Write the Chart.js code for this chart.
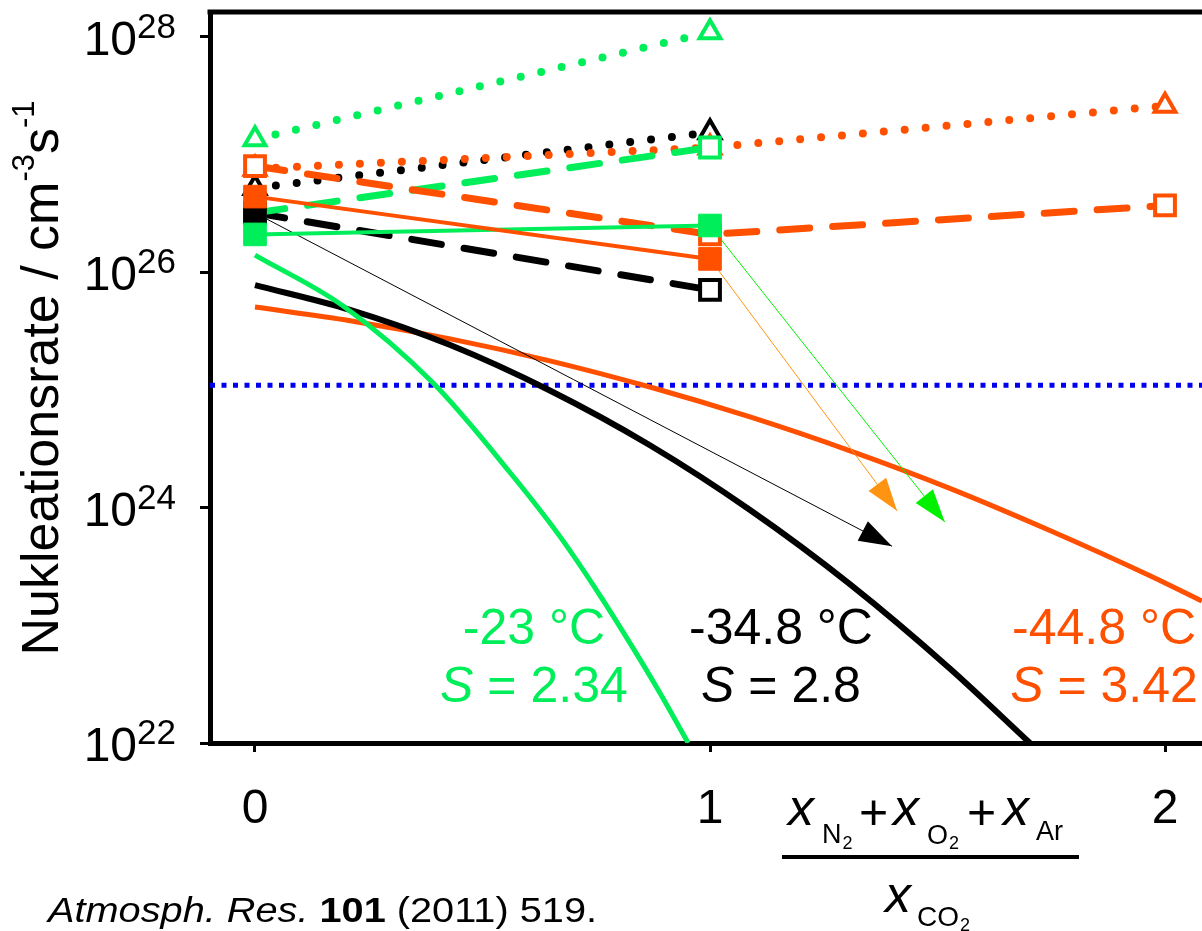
<!DOCTYPE html>
<html>
<head>
<title>Nukleationsrate</title>
<script src="https://cdn.jsdelivr.net/npm/chart.js"></script>
<style>
  body { margin: 0; background: #fff; }
  canvas { display: block; }
</style>
</head>
<body>
<canvas id="nukleation" width="1202" height="931"></canvas>
<script>
// x-Achse: (xN2 + xO2 + xAr) / xCO2
var xMess = [0, 1];
var xMess3 = [0, 1, 2];

// gruen: -23 °C, S = 2.34
var gruenPunktiert = [1.35e27, 1.1e28];     // offene Dreiecke
var gruenGestrichelt = [3.2e26, 1.15e27];   // offene Quadrate
var gruenVoll = [2.1e26, 2.5e26];           // volle Quadrate
var gruenTheorieX = [0, 0.193, 0.391, 0.56, 0.67, 0.758, 0.831, 0.89, 0.952];
var gruenTheorie = [1.4e26, 5.2e25, 1.15e25, 2.0e24, 5.7e23, 1.8e23, 6.4e22, 2.66e22, 1e22];

// schwarz: -34.8 °C, S = 2.8
var schwarzPunktiert = [5.2e26, 1.55e27];
var schwarzGestrichelt = [3.2e26, 7.1e25];
var schwarzVoll = [3.2e26];
var schwarzTheorieX = [0, 0.209, 0.429, 0.648, 0.868, 1.088, 1.308, 1.527, 1.703];
var schwarzTheorie = [7.8e25, 4.8e25, 2.41e25, 9.9e24, 3.39e24, 9.55e23, 2.23e23, 4.3e22, 1e22];

// orange: -44.8 °C, S = 3.42
var orangePunktiert = [7.6e26, 1.15e27, 2.6e27];
var orangeGestrichelt = [8.0e26, 2.1e26, 3.7e26];
var orangeVoll = [4.4e26, 1.3e26];
var orangeTheorieX = [0, 0.209, 0.429, 0.648, 0.868, 1.088, 1.308, 1.527, 1.747, 1.967, 2.081];
var orangeTheorie = [5.07e25, 3.88e25, 2.72e25, 1.77e25, 1.06e25, 5.9e24, 3.04e24, 1.46e24, 6.4e23, 2.64e23, 1.61e23];

// Pfeile (Start, Ziel)
var schwarzPfeilX = [0, 1.40];
var schwarzPfeil = [3.2e26, 4.7e23];
var orangePfeilX = [1, 1.411];
var orangePfeil = [1.3e26, 9.4e23];
var gruenPfeilX = [1, 1.516];
var gruenPfeil = [2.5e26, 7.55e23];

// blaue Linie
var blauX = [-0.2, 2.2];
var blau = [1.1e25, 1.1e25];

var xTicks = [0, 1, 2];
var yTicks = [1e22, 1e24, 1e26, 1e28];
var yExponent = ['22', '24', '26', '28'];

var temperaturen = ['-23 °C', '-34.8 °C', '-44.8 °C'];
var sWerte = ['2.34', '2.8', '3.42'];
var labelX = [0.613, 1.156, 1.866];

var gruen = '#00ee5a';
var orange = '#ff5000';
var schwarz = '#000000';
var schrift = '"Liberation Sans", Arial, sans-serif';

function punkte(xs, ys) {
  return xs.map(function (x, i) { return { x: x, y: ys[i] }; });
}

function messreihe(xs, ys, farbe, art, symbol, offen, order) {
  var ds = {
    data: punkte(xs, ys),
    borderColor: farbe,
    pointStyle: symbol,
    pointBorderColor: farbe,
    pointBackgroundColor: offen ? '#fff' : farbe,
    pointBorderWidth: offen ? 4 : 1,
    pointRadius: symbol === 'triangle' ? 12 : (offen ? 14 : 16),
    order: order,
    fill: false
  };
  if (art === 'punkt') {
    ds.borderWidth = 8; ds.borderDash = [0, 21]; ds.borderCapStyle = 'round';
  } else if (art === 'strich') {
    ds.borderWidth = 7; ds.borderDash = [30, 23]; ds.borderCapStyle = 'round';
  } else {
    ds.borderWidth = 4;
  }
  return ds;
}

function kurve(xs, ys, farbe, breite) {
  return {
    data: punkte(xs, ys), borderColor: farbe, borderWidth: breite,
    pointRadius: 0, cubicInterpolationMode: 'monotone', order: 11, fill: false
  };
}

function pfeil(xs, ys, farbe) {
  return {
    data: punkte(xs, ys), borderColor: farbe, borderWidth: 1,
    pointRadius: 0, order: 10, pfeil: true, fill: false
  };
}

var pfeilspitzen = {
  id: 'pfeilspitzen',
  afterDatasetsDraw: function (chart) {
    var ctx = chart.ctx;
    chart.data.datasets.forEach(function (ds, i) {
      if (!ds.pfeil) return;
      var p = chart.getDatasetMeta(i).data;
      var a = p[p.length - 2], b = p[p.length - 1];
      var w = Math.atan2(b.y - a.y, b.x - a.x);
      ctx.save();
      ctx.translate(b.x, b.y);
      ctx.rotate(w);
      ctx.fillStyle = ds.borderColor;
      ctx.beginPath();
      ctx.moveTo(0, 0);
      ctx.lineTo(-33, -11);
      ctx.lineTo(-33, 11);
      ctx.closePath();
      ctx.fill();
      ctx.restore();
    });
  }
};

// Text aus Teilen zeichnen: [text, font, dy, abstand]
function teile(ctx, liste, x, y) {
  liste.forEach(function (t) {
    x += t[3] || 0;
    ctx.font = t[1];
    ctx.fillText(t[0], x, y + (t[2] || 0));
    x += ctx.measureText(t[0]).width;
  });
}
function breite(ctx, liste) {
  var w = 0;
  liste.forEach(function (t) { ctx.font = t[1]; w += ctx.measureText(t[0]).width + (t[3] || 0); });
  return w;
}

var beschriftung = {
  id: 'beschriftung',
  afterDraw: function (chart) {
    var ctx = chart.ctx;
    var a = chart.chartArea;
    var xs = chart.scales.x, ys = chart.scales.y;
    ctx.save();

    // obere Rahmenlinie
    ctx.strokeStyle = '#000';
    ctx.lineWidth = 5;
    ctx.beginPath();
    ctx.moveTo(a.left - 2.5, a.top);
    ctx.lineTo(a.right, a.top);
    ctx.stroke();

    ctx.fillStyle = '#000';
    ctx.textBaseline = 'alphabetic';

    // y-Ticks 10^n
    yTicks.forEach(function (v, i) {
      var py = ys.getPixelForValue(v);
      ctx.textAlign = 'right';
      ctx.font = '35px ' + schrift;
      ctx.fillText(yExponent[i], 176, py + 1);
      var w = ctx.measureText(yExponent[i]).width;
      ctx.font = '48px ' + schrift;
      ctx.fillText('10', 176 - w, py + 18);
    });

    // x-Ticks
    ctx.textAlign = 'center';
    ctx.font = '48px ' + schrift;
    xTicks.forEach(function (v) {
      ctx.fillText(String(v), xs.getPixelForValue(v), 823);
    });

    // y-Titel
    ctx.textAlign = 'left';
    var f1 = '52px ' + schrift, f2 = '31px ' + schrift;
    var titel = [['Nukleationsrate / cm', f1], ['-3', f2, -24], ['s', f1], ['-1', f2, -24]];
    ctx.save();
    ctx.translate(58, 378);
    ctx.rotate(-Math.PI / 2);
    teile(ctx, titel, -breite(ctx, titel) / 2, 0);
    ctx.restore();

    // x-Titel als Bruch
    var fx = 'italic 52px ' + schrift, fs = '27px ' + schrift, f2s = '18px ' + schrift, fp = '50px ' + schrift;
    teile(ctx, [['x', fx], ['N', fs, 18, 8], ['2', f2s, 24, 1]], 788, 825);
    ctx.font = fp; ctx.fillText('+', 859, 829);
    teile(ctx, [['x', fx], ['O', fs, 19, 8], ['2', f2s, 24, 1]], 893, 825);
    ctx.font = fp; ctx.fillText('+', 967, 829);
    teile(ctx, [['x', fx], ['Ar', fs, 15, 7]], 1003, 825);
    ctx.fillRect(782, 855, 297, 4);
    teile(ctx, [['x', fx], ['CO', '28px ' + schrift, 14, 6], ['2', f2s, 19, 1]], 885, 912);

    // Temperatur / Übersättigung
    var farben = [gruen, schwarz, orange];
    temperaturen.forEach(function (t, i) {
      var cx = xs.getPixelForValue(labelX[i]);
      ctx.fillStyle = farben[i];
      var z1 = [[t, '50px ' + schrift]];
      teile(ctx, z1, cx - breite(ctx, z1) / 2, 644);
      var z2 = [['S', 'italic 50px ' + schrift], [' = ' + sWerte[i], '50px ' + schrift]];
      teile(ctx, z2, cx - breite(ctx, z2) / 2, 702);
    });

    // Quelle
    ctx.fillStyle = '#000';
    var q = [['Atmosph. Res. ', 'italic 35px ' + schrift], ['101', 'bold 35px ' + schrift],
             [' (2011) 519.', '35px ' + schrift]];
    var qw = breite(ctx, q);
    ctx.save();
    ctx.translate(48, 922);
    ctx.scale(549 / qw, 1);
    teile(ctx, q, 0, 0);
    ctx.restore();

    ctx.restore();
  }
};

new Chart(document.getElementById('nukleation').getContext('2d'), {
  type: 'line',
  data: {
    datasets: [
      messreihe(xMess, orangeVoll, orange, 'voll', 'rect', false, 1),
      messreihe(xMess, gruenVoll, gruen, 'voll', 'rect', false, 2),
      messreihe([0], schwarzVoll, schwarz, 'voll', 'rect', false, 3),
      messreihe(xMess3, orangeGestrichelt, orange, 'strich', 'rect', true, 4),
      messreihe(xMess, gruenGestrichelt, gruen, 'strich', 'rect', true, 5),
      messreihe(xMess, schwarzGestrichelt, schwarz, 'strich', 'rect', true, 6),
      messreihe(xMess3, orangePunktiert, orange, 'punkt', 'triangle', true, 7),
      messreihe(xMess, gruenPunktiert, gruen, 'punkt', 'triangle', true, 8),
      messreihe(xMess, schwarzPunktiert, schwarz, 'punkt', 'triangle', true, 9),
      pfeil(schwarzPfeilX, schwarzPfeil, '#000000'),
      pfeil(orangePfeilX, orangePfeil, '#ff9412'),
      pfeil(gruenPfeilX, gruenPfeil, '#00f000'),
      kurve(gruenTheorieX, gruenTheorie, gruen, 5),
      kurve(schwarzTheorieX, schwarzTheorie, schwarz, 6),
      kurve(orangeTheorieX, orangeTheorie, orange, 5),
      {
        data: punkte(blauX, blau), borderColor: '#0000ee', borderWidth: 5,
        borderDash: [5, 6.5], borderCapStyle: 'butt', pointRadius: 0, order: 12, fill: false
      }
    ]
  },
  options: {
    responsive: false,
    devicePixelRatio: 1,
    animation: false,
    events: [],
    layout: { autoPadding: false, padding: { top: 12, right: 0, bottom: 0, left: 0 } },
    plugins: { legend: { display: false }, tooltip: { enabled: false } },
    scales: {
      x: {
        type: 'linear',
        min: -0.0989,
        max: 2.0813,
        afterBuildTicks: function (s) { s.ticks = xTicks.map(function (v) { return { value: v }; }); },
        afterFit: function (s) { s.height = 188; },
        ticks: { display: false },
        grid: { drawOnChartArea: false, drawTicks: true, tickLength: 9, tickWidth: 3, tickColor: '#000' },
        border: { display: true, color: '#000', width: 5 }
      },
      y: {
        type: 'logarithmic',
        min: 1e22,
        max: 1.631e28,
        afterBuildTicks: function (s) { s.ticks = yTicks.map(function (v) { return { value: v }; }); },
        afterFit: function (s) { s.width = 210; },
        ticks: { display: false },
        grid: { drawOnChartArea: false, drawTicks: true, tickLength: 10, tickWidth: 3, tickColor: '#000' },
        border: { display: true, color: '#000', width: 5 }
      }
    }
  },
  plugins: [pfeilspitzen, beschriftung]
});
</script>
</body>
</html>
